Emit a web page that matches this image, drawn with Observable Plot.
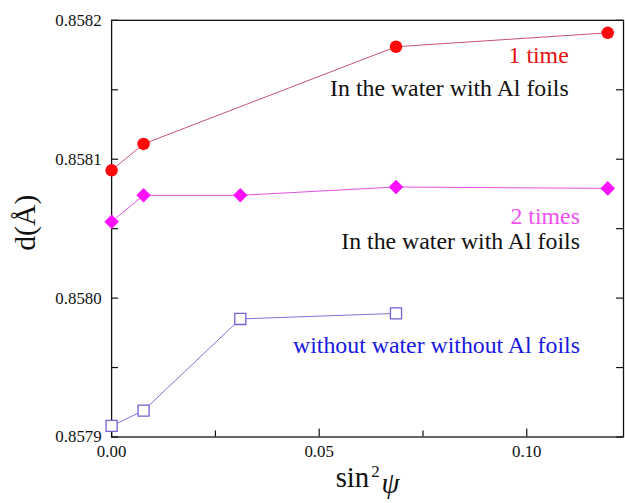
<!DOCTYPE html>
<html><head><meta charset="utf-8">
<script src="https://cdn.jsdelivr.net/npm/d3@7"></script>
<script src="https://cdn.jsdelivr.net/npm/@observablehq/plot@0.6"></script>
<style>html,body{margin:0;padding:0;overflow:hidden;background:#fff}
svg, svg text{font-family:"Liberation Serif","Times New Roman",serif !important}</style>
</head><body><div id="chart"></div>
<script>
// sin^2 psi positions and d-spacing values (Å)
const xOnce = [0, 0.0077, 0.0685, 0.1195];
const dOnce = [0.858092, 0.858111, 0.858181, 0.858191];
const xTwice = [0, 0.0077, 0.0310, 0.0685, 0.1195];
const dTwice = [0.858055, 0.858074, 0.858074, 0.858080, 0.858079];
const xDry = [0, 0.0077, 0.0310, 0.0685];
const dDry = [0.857908, 0.857919, 0.857985, 0.857989];

const yMajor = [0.8579, 0.8580, 0.8581, 0.8582];
const yMinor = [0.85795, 0.85805, 0.85815];
const xMajor = [0, 0.05, 0.10];
const xMinor = [0.025, 0.075];

const noteText = ["1 time", "In the water with Al foils", "2 times", "In the water with Al foils", "without water without Al foils"];
const noteX = [0.1101, 0.1101, 0.1128, 0.1128, 0.1128];
const noteY = [0.858175, 0.858151, 0.858059, 0.858041, 0.857966];
const noteColor = ["#e81010", "#111111", "#f050f0", "#111111", "#1818e0"];

const once = xOnce.map((x, i) => ({x, d: dOnce[i]}));
const twice = xTwice.map((x, i) => ({x, d: dTwice[i]}));
const dry = xDry.map((x, i) => ({x, d: dDry[i]}));
const notes = noteText.map((t, i) => ({t, x: noteX[i], d: noteY[i], c: noteColor[i]}));

const FF = "Liberation Serif";
const W = 630, H = 503, mL = 112, mR = 2, mT = 20, mB = 63;
const pw = W - mL - mR, ph = H - mT - mB;

const chart = Plot.plot({
  width: W, height: H,
  marginLeft: mL, marginRight: mR, marginTop: mT, marginBottom: mB,
  style: {fontFamily: FF, fontSize: "17px", color: "#111", background: "#fff"},
  x: {domain: [0, 0.1233]},
  y: {domain: [0.8579, 0.8582]},
  marks: [
    Plot.frame({stroke: "#111", strokeWidth: 1.3}),
    Plot.axisY({ticks: yMajor, tickSize: 0, tickPadding: 10, tickFormat: d3.format(".4f"), label: null, fontSize: 17, fontFamily: FF}),
    Plot.axisX({ticks: xMajor, tickSize: 0, tickPadding: 8, tickFormat: d3.format(".2f"), label: null, fontSize: 17, fontFamily: FF}),
    Plot.tickY(yMajor.concat(yMinor), {y: d => d, insetRight: pw - 7, stroke: "#111", strokeWidth: 1.2}),
    Plot.tickY(yMajor.concat(yMinor), {y: d => d, insetLeft: pw - 7, stroke: "#111", strokeWidth: 1.2}),
    Plot.tickX(xMajor, {x: d => d, insetTop: ph - 8, stroke: "#111", strokeWidth: 1.2}),
    Plot.tickX(xMinor, {x: d => d, insetTop: ph - 6, stroke: "#111", strokeWidth: 1.2}),
    Plot.line(once, {x: "x", y: "d", stroke: "#c8506e", strokeWidth: 1}),
    Plot.line(twice, {x: "x", y: "d", stroke: "#e050e0", strokeWidth: 1}),
    Plot.line(dry, {x: "x", y: "d", stroke: "#7b70d6", strokeWidth: 1}),
    Plot.dot(once, {x: "x", y: "d", r: 6.3, fill: "#ff0a0a", symbol: "circle"}),
    Plot.dot(twice, {x: "x", y: "d", r: 6.6, fill: "#ff10ff", symbol: "diamond2"}),
    Plot.dot(dry, {x: "x", y: "d", r: 6.3, fill: "#fff", stroke: "#6e62d0", strokeWidth: 1.3, symbol: "square"}),
    Plot.text(notes, {x: "x", y: "d", text: "t", fill: "c", textAnchor: "end", fontSize: 24, fontFamily: FF}),
    Plot.text(["d(Å)"], {frameAnchor: "left", textAnchor: "middle", dx: -87, dy: -6, rotate: -90, fontSize: 30, fill: "#111", fontFamily: FF}),
    Plot.text(["sin²ψ"], {frameAnchor: "bottom", textAnchor: "middle", dy: 50, fontSize: 29, fill: "#111", fontFamily: FF})
  ]
});
document.getElementById("chart").appendChild(chart);

// style the x-axis label: superscript 2 and italic psi
d3.select(chart).selectAll("text").each(function() {
  if (this.textContent === "sin²ψ") {
    const t = d3.select(this);
    t.text(null);
    t.append("tspan").text("sin");
    t.append("tspan").attr("dy", "-0.55em").attr("dx", "2").attr("font-size", "17px").text("2");
    t.append("tspan").attr("dy", "0.55em").attr("dx", "2").attr("font-style", "italic").text("ψ");
  }
});
</script>
</body></html>
